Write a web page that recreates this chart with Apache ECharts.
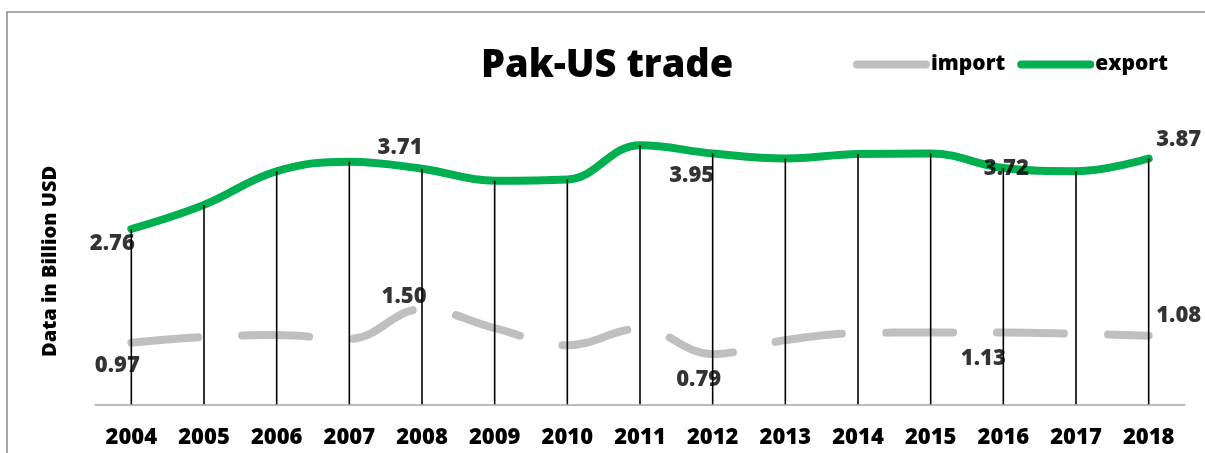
<!DOCTYPE html>
<html>
<head>
<meta charset="utf-8">
<script src="https://cdn.jsdelivr.net/npm/echarts@6/dist/echarts.min.js"></script>
<style>
html,body{margin:0;padding:0;background:#fff;}
#chart{width:1205px;height:453px;}
</style>
</head>
<body>
<div id="chart"></div>
<script>
// ---- data ----
const years = ['2004','2005','2006','2007','2008','2009','2010','2011','2012','2013','2014','2015','2016','2017','2018'];
const exportVals = [2.76, 3.14, 3.67, 3.82, 3.71, 3.52, 3.54, 4.08, 3.95, 3.87, 3.94, 3.95, 3.72, 3.67, 3.87];
const importVals = [0.97, 1.06, 1.09, 1.03, 1.50, 1.20, 0.93, 1.19, 0.79, 1.01, 1.12, 1.13, 1.13, 1.11, 1.08];
const labelledIdx = [0, 4, 8, 12, 14];

// ---- label placement (style) ----
const exportLabelOffsets = {0:[-19,15], 4:[-22,-21], 8:[-21,22], 12:[3,1], 14:[30,-19]};
const importLabelOffsets = {0:[-14,23], 4:[-18,-12], 8:[-14,26], 12:[-20,26], 14:[30,-20]};

const FONT = '"Open Sans", "Noto Sans", sans-serif';
const W = 800;

function labelData(vals, offs) {
  return vals.map((v, i) => labelledIdx.includes(i)
    ? { value: v, label: { show: true, offset: offs[i] } }
    : '-');
}

const pill = 'path://M4,0 L71,0 A4,4 0 0 1 71,8 L4,8 A4,4 0 0 1 4,0 Z';

const chart = echarts.init(document.getElementById('chart'), null, {renderer: 'canvas'});
chart.setOption({
  backgroundColor: '#fff',
  animation: false,
  title: {
    text: 'Pak-US trade',
    left: 476, top: 42,
    textStyle: { fontFamily: FONT, fontWeight: W, fontSize: 38, color: '#000' }
  },
  legend: {
    left: 848, top: 49,
    itemWidth: 77, itemHeight: 9, itemGap: 12,
    textStyle: { fontFamily: FONT, fontWeight: W, fontSize: 21, color: '#000', padding: [0,0,0,-4] },
    data: [
      { name: 'import', icon: pill, itemStyle: { color: '#bfbfbf' } },
      { name: 'export', icon: pill, itemStyle: { color: '#00b050' } }
    ]
  },
  graphic: [{
    type: 'rect', silent: true, z: -1,
    shape: { x: 7, y: 12, width: 1400, height: 600 },
    style: { fill: 'none', stroke: '#8c8c8c', lineWidth: 1.5 }
  }],
  grid: { left: 95, right: 20, top: 118.5, bottom: 48.7, containLabel: false },
  xAxis: {
    type: 'category', data: years, boundaryGap: true,
    axisTick: { show: false },
    axisLine: { lineStyle: { color: '#a6a6a6', width: 1.5 } },
    axisLabel: { margin: 22, color: '#000', fontFamily: FONT, fontWeight: W, fontSize: 22 }
  },
  yAxis: {
    type: 'value', min: 0, max: 4.5,
    axisLabel: { show: false }, splitLine: { show: false }, axisLine: { show: false }, axisTick: { show: false },
    name: 'Data in Billion USD', nameLocation: 'middle', nameRotate: 90, nameGap: 35,
    nameTextStyle: { fontFamily: FONT, fontWeight: W, fontSize: 20, color: '#000' }
  },
  series: [
    {
      name: 'import', type: 'line', data: importVals, smooth: 0.4, symbol: 'none', z: 2,
      lineStyle: { color: '#bfbfbf', width: 8, type: [67, 44], cap: 'round' },
      itemStyle: { color: '#bfbfbf' }
    },
    {
      name: 'export', type: 'line', data: exportVals, smooth: 0.4, symbol: 'none', z: 2,
      lineStyle: { color: '#00b050', width: 8, cap: 'round' },
      itemStyle: { color: '#00b050' }
    },
    {
      name: 'drop', type: 'bar', data: exportVals, barWidth: 1.6, z: 4, silent: true,
      itemStyle: { color: '#000' }
    },
    {
      name: 'exportLabels', type: 'scatter', data: labelData(exportVals, exportLabelOffsets),
      symbolSize: 0, z: 10, silent: true,
      label: { show: true, position: 'inside', color: '#000', fontFamily: FONT, fontWeight: W, fontSize: 22,
               formatter: p => Number(p.value).toFixed(2) }
    },
    {
      name: 'importLabels', type: 'scatter', data: labelData(importVals, importLabelOffsets),
      symbolSize: 0, z: 10, silent: true,
      label: { show: true, position: 'inside', color: '#000', fontFamily: FONT, fontWeight: W, fontSize: 22,
               formatter: p => Number(p.value).toFixed(2) }
    }
  ]
});
</script>
</body>
</html>
